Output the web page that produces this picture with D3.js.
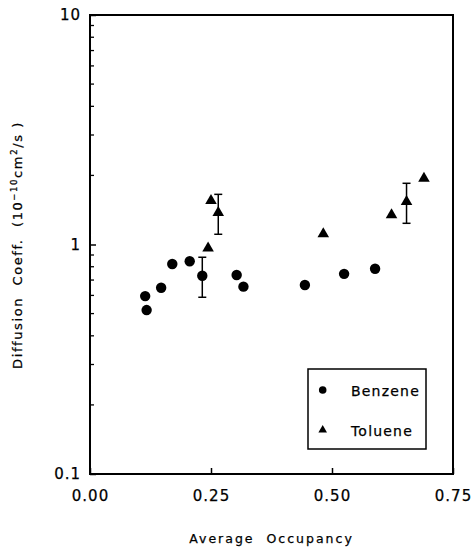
<!DOCTYPE html>
<html>
<head>
    <title>Diffusion Coefficient vs Occupancy</title>
    <script src="https://d3js.org/d3.v7.min.js"></script>
    <style>
        body { margin: 0; background: #fff; }
        text { font-family: "DejaVu Sans", sans-serif; fill: #000; stroke: #000; stroke-width: 0.25px; }
    </style>
</head>
<body>
    <script>
        // data
        const benzeneX = [0.114, 0.117, 0.147, 0.170, 0.206, 0.232, 0.303, 0.317, 0.444, 0.525, 0.589];
        const benzeneY = [0.596, 0.518, 0.648, 0.822, 0.845, 0.731, 0.736, 0.655, 0.666, 0.745, 0.784];
        const tolueneX = [0.244, 0.250, 0.265, 0.482, 0.623, 0.654, 0.690];
        const tolueneY = [0.963, 1.552, 1.376, 1.111, 1.345, 1.536, 1.94];

        // error bars: x, low, high
        const errX    = [0.232, 0.265, 0.654];
        const errLow  = [0.589, 1.108, 1.237];
        const errHigh = [0.880, 1.654, 1.848];

        const xTicks = [0, 0.25, 0.5, 0.75];
        const yTicks = [0.1, 1, 10];
        const legendNames = ["Benzene", "Toluene"];

        const width = 473, height = 548;
        const plot = {left: 90, right: 453, top: 15, bottom: 474};

        const svg = d3.select("body").append("svg")
            .attr("width", width)
            .attr("height", height);

        const x = d3.scaleLinear().domain([0, 0.75]).range([plot.left, plot.right]);
        const y = d3.scaleLog().domain([0.1, 10]).range([plot.bottom, plot.top]);

        // minor ticks on the log axis
        const minor = [];
        [0.1, 1].forEach(function(d) {
            for (let k = 2; k <= 9; k++) minor.push(d * k);
        });
        svg.append("g")
            .selectAll("line")
            .data(minor)
            .join("line")
            .attr("x1", plot.left).attr("x2", plot.left + 4)
            .attr("y1", d => y(d)).attr("y2", d => y(d))
            .attr("stroke", "#000").attr("stroke-width", 1.3);

        // x axis, ticks pointing inward
        const xAxis = svg.append("g")
            .attr("transform", "translate(0," + plot.bottom + ")")
            .call(d3.axisBottom(x).tickValues(xTicks).tickFormat(d3.format(".2f"))
                .tickSizeInner(-6).tickSizeOuter(0).tickPadding(16));
        xAxis.select(".domain").remove();
        xAxis.selectAll(".tick line").attr("stroke-width", 1.5);
        xAxis.selectAll("text")
            .style("font-family", "'DejaVu Sans', sans-serif")
            .style("font-size", "15px")
            .style("letter-spacing", "1px")
            .attr("fill", "#000");

        // y axis
        const yAxis = svg.append("g")
            .attr("transform", "translate(" + plot.left + ",0)")
            .call(d3.axisLeft(y).tickValues(yTicks).tickFormat(d => d < 1 ? "0.1" : String(d))
                .tickSizeInner(-6).tickSizeOuter(0).tickPadding(9));
        yAxis.select(".domain").remove();
        yAxis.selectAll(".tick line").attr("stroke-width", 1.5);
        yAxis.selectAll("text")
            .style("font-family", "'DejaVu Sans', sans-serif")
            .style("font-size", "15px")
            .style("letter-spacing", "1px")
            .attr("fill", "#000");

        // frame
        svg.append("rect")
            .attr("x", plot.left).attr("y", plot.top)
            .attr("width", plot.right - plot.left)
            .attr("height", plot.bottom - plot.top)
            .attr("fill", "none")
            .attr("stroke", "#000")
            .attr("stroke-width", 2);

        // error bars
        const eb = svg.append("g").attr("stroke", "#000").attr("stroke-width", 1.5);
        errX.forEach(function(d, i) {
            const cx = x(d);
            eb.append("line").attr("x1", cx).attr("x2", cx)
                .attr("y1", y(errLow[i])).attr("y2", y(errHigh[i]));
            eb.append("line").attr("x1", cx - 4).attr("x2", cx + 4)
                .attr("y1", y(errLow[i])).attr("y2", y(errLow[i]));
            eb.append("line").attr("x1", cx - 4).attr("x2", cx + 4)
                .attr("y1", y(errHigh[i])).attr("y2", y(errHigh[i]));
        });

        const circle = d3.symbol().type(d3.symbolCircle).size(85);
        const tri = d3.symbol().type(d3.symbolTriangle).size(58);

        svg.append("g")
            .selectAll("path")
            .data(benzeneX)
            .join("path")
            .attr("d", circle)
            .attr("transform", (d, i) => "translate(" + x(d) + "," + y(benzeneY[i]) + ")")
            .attr("fill", "#000");

        svg.append("g")
            .selectAll("path")
            .data(tolueneX)
            .join("path")
            .attr("d", tri)
            .attr("transform", (d, i) => "translate(" + x(d) + "," + y(tolueneY[i]) + ")")
            .attr("fill", "#000");

        // legend
        const lg = svg.append("g");
        lg.append("rect")
            .attr("x", 308).attr("y", 369)
            .attr("width", 118).attr("height", 80)
            .attr("fill", "#fff")
            .attr("stroke", "#000")
            .attr("stroke-width", 1.5);
        const legendSyms = [d3.symbol().type(d3.symbolCircle).size(45), d3.symbol().type(d3.symbolTriangle).size(32)];
        legendNames.forEach(function(name, i) {
            const ly = 390 + i * 40;
            lg.append("path")
                .attr("d", legendSyms[i])
                .attr("transform", "translate(322.7," + ly + ")")
                .attr("fill", "#000");
            lg.append("text")
                .attr("x", 351).attr("y", ly + 5.5)
                .style("font-size", "14px")
                .style("letter-spacing", "1.2px")
                .text(name);
        });

        // axis titles
        svg.append("text")
            .attr("x", (plot.left + plot.right) / 2)
            .attr("y", 543)
            .attr("text-anchor", "middle")
            .style("font-size", "12.5px")
            .style("letter-spacing", "2px")
            .style("word-spacing", "6px")
            .text("Average Occupancy");

        const yt = svg.append("text")
            .attr("transform", "translate(22,245) rotate(-90)")
            .attr("text-anchor", "middle")
            .style("font-size", "13px")
            .style("letter-spacing", "1.6px")
            .style("white-space", "pre");
        yt.append("tspan").text("Diffusion  Coeff.  (10");
        yt.append("tspan").attr("dy", -5).style("font-size", "8.5px").text("\u221210");
        yt.append("tspan").attr("dy", 5).text("cm");
        yt.append("tspan").attr("dy", -5).style("font-size", "8.5px").text("2");
        yt.append("tspan").attr("dy", 5).text("/s )");
    </script>
</body>
</html>
